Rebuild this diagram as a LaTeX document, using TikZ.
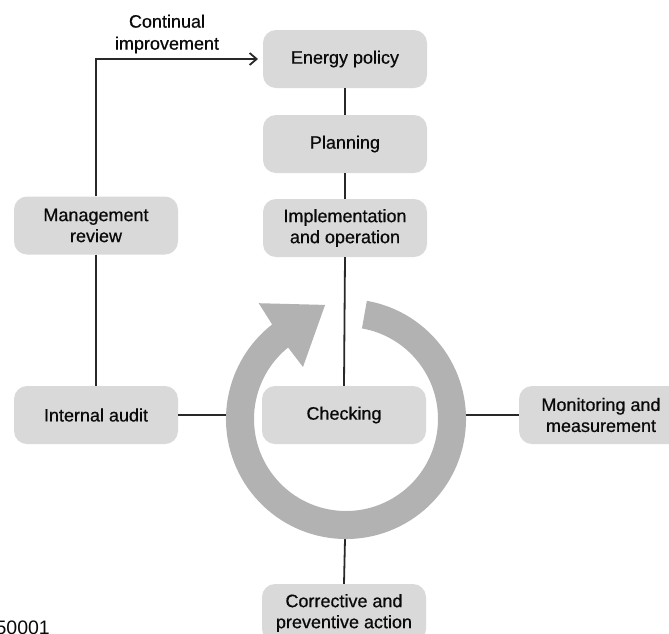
\documentclass[tikz,border=0pt]{standalone}
\usepackage{fontspec}
\setmainfont{Liberation Sans}
\newfontfamily\heavysans[FakeBold=0.6]{Liberation Sans}
\usetikzlibrary{arrows.meta}
\definecolor{boxgray}{RGB}{217,217,217}
\definecolor{ringgray}{RGB}{178,178,178}
\definecolor{linegray}{RGB}{40,40,40}
\definecolor{txt}{RGB}{10,10,10}
\begin{document}
\begin{tikzpicture}[x=1pt,y=-1pt,
  box/.style={rectangle, rounded corners=13pt, fill=boxgray, draw=none,
    minimum width=164pt, minimum height=58pt, inner sep=2pt, align=center,
    text=txt, font=\heavysans\fontsize{18}{21}\selectfont},
  lbl/.style={align=center, text=txt, inner sep=0pt, font=\heavysans\fontsize{18}{22}\selectfont},
  conn/.style={draw=linegray, line width=1.8pt}]
\useasboundingbox (0,0) rectangle (669,633);
\clip (0,0) rectangle (669,633);
% boxes
\node[box] (policy) at (345,59) {Energy policy};
\node[box] (plan) at (345,144) {Planning};
\node[box] (impl) at (345,228) {Implementation\\and operation};
\node[box] (check) at (344,415) {Checking};
\node[box] (mgmt) at (96,225.5) {Management\\review};
\node[box] (audit) at (96,415) {Internal audit};
\node[box] (mon) at (601,415) {Monitoring and\\measurement};
\node[box] (corr) at (344,613) {Corrective and\\preventive action};
\node[lbl] (ci) at (167,34) {Continual\\improvement};
\node[anchor=base east, inner sep=0pt, text=txt, font=\fontsize{19.5}{22}\selectfont] (iso) at (50,634) {50001};
% ring coordinates
\coordinate (ringL) at (226,415);
\coordinate (ringR) at (466,415);
\coordinate (ringB) at (345,539);
\coordinate (arrowend) at (258,59);
% connectors
\draw[conn] (policy.south) -- (plan.north);
\draw[conn] (plan.south) -- (impl.north);
\draw[conn] (impl.south) -- (check.north);
\draw[conn] (mgmt.south) -- (audit.north);
\draw[conn] (audit.east) -- (ringL);
\draw[conn] (ringR) -- (mon.west);
\draw[conn] (ringB) -- (corr.north);
\draw[conn, -{Straight Barb[length=7pt,width=12pt,line width=1.8pt]}] (mgmt.north) |- (arrowend);
% ring arrow
\begin{scope}[shift={(346,419)}]
\fill[ringgray] (80:92pt) -- (80:120pt) arc[start angle=80, end angle=-232, radius=120pt]
  -- (127:145pt) -- (100.4:116pt) -- (129.6:67.5pt) -- (-231:92pt)
  arc[start angle=-231, end angle=80, radius=92pt] -- cycle;
\end{scope}
\end{tikzpicture}
\end{document}
